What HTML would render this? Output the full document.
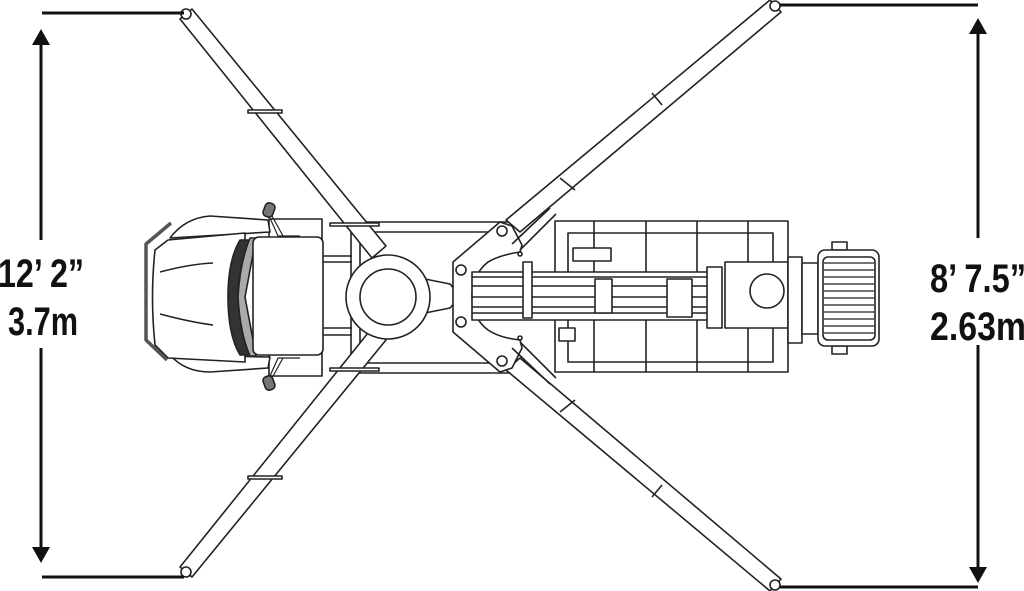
<!DOCTYPE html>
<html><head><meta charset="utf-8"><style>html,body{margin:0;padding:0;background:#fff}svg{display:block}</style></head><body>
<svg width="1024" height="591" viewBox="0 0 1024 591" xmlns="http://www.w3.org/2000/svg">
<g fill="none" stroke="#222" stroke-width="1.6" stroke-linejoin="round">
<!-- chassis -->
<line x1="352" y1="222" x2="510" y2="222"/><line x1="352" y1="232" x2="500" y2="232"/>
<line x1="352" y1="363" x2="500" y2="363"/><line x1="352" y1="373" x2="510" y2="373"/>
<line x1="351" y1="223" x2="351" y2="372"/><line x1="360" y1="223" x2="360" y2="372"/>
<rect x="269" y="219" width="53" height="157"/>
<line x1="322" y1="256" x2="352" y2="256"/><line x1="322" y1="262" x2="352" y2="262"/>
<line x1="322" y1="328" x2="352" y2="328"/><line x1="322" y1="335" x2="352" y2="335"/>
<!-- outrigger beams -->
<g fill="#fff">
<polygon points="180,19 192,9 386,246 372,258"/>
<polygon points="180,567 192,577 386,340 372,328"/>
<polygon points="770,0 781,12 520,232 506,220"/>
<polygon points="770,591 781,579 520,358 506,370"/>
</g>
<circle cx="186" cy="14" r="5" fill="#fff"/><circle cx="186" cy="572" r="5" fill="#fff"/>
<circle cx="775" cy="6" r="5" fill="#fff"/><circle cx="775" cy="585" r="5" fill="#fff"/>
<rect x="248" y="110" width="34" height="3" fill="#fff"/><rect x="248" y="476" width="34" height="3" fill="#fff"/>
<line x1="652" y1="93" x2="662" y2="105"/><line x1="652" y1="497" x2="662" y2="485"/>
<line x1="560" y1="178" x2="575" y2="190"/><line x1="560" y1="412" x2="575" y2="400"/>
<rect x="330" y="223" width="49" height="3" fill="#fff"/><rect x="330" y="368" width="49" height="3" fill="#fff"/>
<!-- turret -->
<path d="M420,278 L450,284 Q462,296 450,308 L420,314 Z" fill="#fff"/>
<circle cx="388" cy="297" r="42" fill="#fff"/><circle cx="388" cy="297" r="28"/>
<!-- hex mount -->
<path d="M453,262 L500,222 L512,226 L522,245 L520,252 Q500,255 488,262 Q472,275 472,296 Q472,318 488,330 Q500,338 520,340 L522,348 L512,368 L500,372 L453,332 Z" fill="#fff"/>
<circle cx="461" cy="270" r="5"/><circle cx="461" cy="322" r="5"/>
<circle cx="502" cy="231" r="5"/><circle cx="502" cy="361" r="5"/>
<line x1="512" y1="244" x2="550" y2="208"/><line x1="520" y1="250" x2="556" y2="214"/>
<line x1="512" y1="348" x2="550" y2="384"/><line x1="520" y1="342" x2="556" y2="378"/>
<circle cx="520" cy="254" r="2"/><circle cx="520" cy="338" r="2"/>
<!-- deck -->
<rect x="555" y="221" width="233" height="151"/>
<rect x="568" y="233" width="205" height="129"/>
<line x1="594" y1="221" x2="594" y2="372"/><line x1="646" y1="221" x2="646" y2="372"/>
<line x1="697" y1="221" x2="697" y2="372"/><line x1="748" y1="221" x2="748" y2="372"/>
<rect x="573" y="248" width="38" height="13" fill="#fff"/>
<rect x="559" y="328" width="16" height="13" fill="#fff"/>
<!-- boom -->
<rect x="472" y="272" width="238" height="48" fill="#fff"/>
<line x1="472" y1="277" x2="710" y2="277"/><line x1="472" y1="286" x2="710" y2="286"/>
<line x1="472" y1="297" x2="710" y2="297"/><line x1="472" y1="307" x2="710" y2="307"/>
<line x1="472" y1="313" x2="710" y2="313"/>
<rect x="523" y="262" width="9" height="56" fill="#fff"/>
<rect x="595" y="279" width="17" height="34" fill="#fff"/>
<rect x="667" y="279" width="25" height="38" fill="#fff"/>
<rect x="707" y="267" width="15" height="61" fill="#fff"/>
<rect x="725" y="262" width="63" height="66" fill="#fff"/>
<circle cx="767" cy="291" r="17"/>
<!-- motor -->
<rect x="788" y="257" width="14" height="86" fill="#fff"/>
<rect x="802" y="263" width="16" height="71" fill="#fff"/>
<rect x="832" y="242" width="15" height="8"/><rect x="832" y="346" width="15" height="8"/>
<rect x="818" y="250" width="61" height="96" rx="7" fill="#fff"/>
<rect x="823" y="257" width="52" height="83" rx="5"/>
<g stroke-width="1.2"><line x1="824" y1="263" x2="874" y2="263"/><line x1="824" y1="270" x2="874" y2="270"/><line x1="824" y1="277" x2="874" y2="277"/><line x1="824" y1="284" x2="874" y2="284"/><line x1="824" y1="291" x2="874" y2="291"/><line x1="824" y1="298" x2="874" y2="298"/><line x1="824" y1="305" x2="874" y2="305"/><line x1="824" y1="312" x2="874" y2="312"/><line x1="824" y1="319" x2="874" y2="319"/><line x1="824" y1="326" x2="874" y2="326"/><line x1="824" y1="333" x2="874" y2="333"/></g>
<!-- cab -->
<path d="M170,238 Q185,218 210,216 L268,220 L270,232 Z" fill="#fff"/>
<path d="M170,355 Q185,372 210,372 L268,368 L270,357 Z" fill="#fff"/>
<path d="M155,250 Q150,297 155,345 L168,358 L245,362 L245,233 L168,240 Z" fill="#fff"/>
<path d="M160,272 Q190,264 213,263"/><path d="M160,314 Q190,322 213,325"/>
<path d="M171,223 L146,244 L146,340 L167,360" stroke="#555" stroke-width="3.5"/>
<path d="M240,240 Q228,260 228,297 Q228,335 240,355 L250,355 Q240,335 238,297 Q240,260 250,240 Z" fill="#333"/>
<path d="M250,238 Q240,262 238,297 Q240,333 250,356 L256,356 L245,297 L256,238 Z" fill="#aaa"/>
<rect x="253" y="237" width="70" height="118" rx="6" fill="#fff"/>
<path d="M270,218 L278,236 L300,236 M272,216 L283,236" stroke-width="1.2"/>
<path d="M270,376 L278,358 L300,358 M272,378 L283,358" stroke-width="1.2"/>
<rect x="264" y="203" width="10" height="14" rx="4" fill="#777" transform="rotate(20 269 210)"/>
<rect x="264" y="376" width="10" height="14" rx="4" fill="#777" transform="rotate(-20 269 383)"/>
</g>
<!-- dimensions -->
<g stroke="#111" stroke-width="3" fill="none">
<line x1="42" y1="13" x2="184" y2="13"/><line x1="42" y1="577" x2="184" y2="577"/>
<line x1="780" y1="5" x2="978" y2="5"/><line x1="780" y1="587" x2="978" y2="587"/>
<line x1="41" y1="40" x2="41" y2="240"/><line x1="41" y1="348" x2="41" y2="552"/>
<line x1="978" y1="30" x2="978" y2="238"/><line x1="978" y1="345" x2="978" y2="572"/>
</g>
<g fill="#111">
<polygon points="41,29 32,45 50,45"/><polygon points="41,563 32,547 50,547"/>
<polygon points="978,18 969,34 987,34"/><polygon points="978,583 969,567 987,567"/>
</g>
<g font-family="'Liberation Sans Narrow','Liberation Sans',sans-serif" font-weight="bold" font-size="40" fill="#111">
<text x="-2" y="287" textLength="86" lengthAdjust="spacingAndGlyphs">12’ 2”</text>
<text x="8" y="335" textLength="70" lengthAdjust="spacingAndGlyphs">3.7m</text>
<text x="930" y="292" textLength="96" lengthAdjust="spacingAndGlyphs">8’ 7.5”</text>
<text x="930" y="340" textLength="96" lengthAdjust="spacingAndGlyphs">2.63m</text>
</g>
</svg>
</body></html>
